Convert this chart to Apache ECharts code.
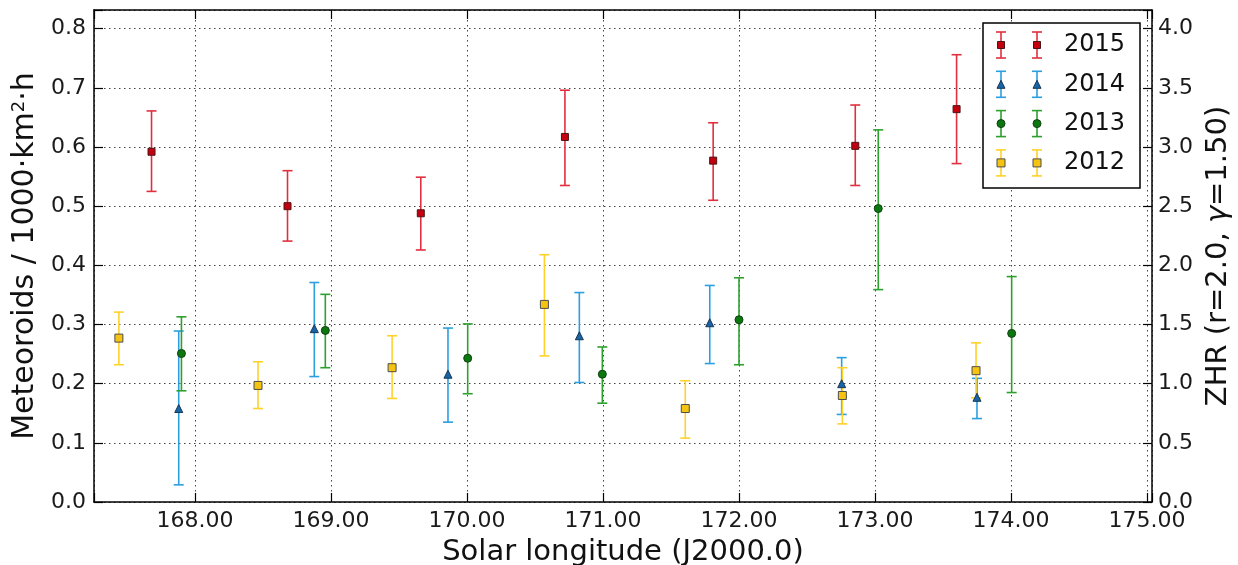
<!DOCTYPE html>
<html><head><meta charset="utf-8">
<script src="https://cdn.jsdelivr.net/npm/echarts@6/dist/echarts.min.js"></script>
<style>html,body{margin:0;padding:0;background:#fff}#c{width:1238px;height:565px}</style>
</head><body><div id="c"></div>
<script>
// ---- data ----
const years = ['2015', '2014', '2013', '2012'];

const lon2015 = [167.68, 168.68, 169.66, 170.72, 171.81, 172.855, 173.60];
const val2015 = [0.592, 0.500, 0.488, 0.617, 0.577, 0.602, 0.664];
const lo2015  = [0.525, 0.441, 0.426, 0.535, 0.510, 0.535, 0.572];
const hi2015  = [0.661, 0.560, 0.549, 0.696, 0.641, 0.671, 0.756];

const lon2014 = [167.88, 168.877, 169.86, 170.826, 171.785, 172.755, 173.75];
const val2014 = [0.158, 0.293, 0.216, 0.281, 0.303, 0.200, 0.177];
const lo2014  = [0.029, 0.212, 0.135, 0.202, 0.234, 0.148, 0.141];
const hi2014  = [0.289, 0.371, 0.294, 0.354, 0.366, 0.244, 0.209];

const lon2013 = [167.90, 168.958, 170.005, 170.995, 172.0, 173.024, 174.005];
const val2013 = [0.251, 0.290, 0.243, 0.216, 0.308, 0.496, 0.285];
const lo2013  = [0.188, 0.227, 0.183, 0.167, 0.232, 0.359, 0.185];
const hi2013  = [0.313, 0.351, 0.301, 0.262, 0.379, 0.629, 0.381];

const lon2012 = [167.44, 168.463, 169.449, 170.569, 171.605, 172.76, 173.743];
const val2012 = [0.277, 0.197, 0.227, 0.334, 0.158, 0.180, 0.222];
const lo2012  = [0.232, 0.158, 0.175, 0.247, 0.108, 0.132, 0.176];
const hi2012  = [0.321, 0.237, 0.281, 0.418, 0.205, 0.227, 0.269];

const xMin = 167.257, xMax = 175.037;
const yMin = 0, yMax = 0.8316;
const zhrFactor = 5;  // right axis = left axis * 5

// ---- styling ----
const FONT = 'DejaVu Sans';
const styles = {
  '2015': {bar: '#e0303f', fill: '#c40010', edge: '#4a1515', symbol: 'rect', size: 7},
  '2014': {bar: '#2b9fe0', fill: '#1565a8', edge: '#1a3550', symbol: 'triangle', size: 8},
  '2013': {bar: '#2ea02e', fill: '#0b780f', edge: '#124012', symbol: 'circle', size: 8},
  '2012': {bar: '#ffd22a', fill: '#f5c312', edge: '#4d4d4d', symbol: 'rect', size: 8}
};
const sets = {
  '2015': [lon2015, val2015, lo2015, hi2015],
  '2014': [lon2014, val2014, lo2014, hi2014],
  '2013': [lon2013, val2013, lo2013, hi2013],
  '2012': [lon2012, val2012, lo2012, hi2012]
};

function errRender(color) {
  return function (params, api) {
    const x = api.value(0), lo = api.value(1), hi = api.value(2);
    const p1 = api.coord([x, lo]), p2 = api.coord([x, hi]);
    const w = 5;
    const st = {stroke: color, lineWidth: 1.6};
    return {type: 'group', children: [
      {type: 'line', shape: {x1: p1[0], y1: p1[1], x2: p2[0], y2: p2[1]}, style: st},
      {type: 'line', shape: {x1: p1[0] - w, y1: p1[1], x2: p1[0] + w, y2: p1[1]}, style: st},
      {type: 'line', shape: {x1: p2[0] - w, y1: p2[1], x2: p2[0] + w, y2: p2[1]}, style: st}
    ]};
  };
}

const series = [];
years.forEach(function (y, k) {
  const d = sets[y], s = styles[y];
  series.push({
    type: 'custom', name: y + ' err', xAxisIndex: 0, yAxisIndex: 0,
    renderItem: errRender(s.bar), z: 2 + k,
    encode: {x: 0, y: [1, 2]},
    data: d[0].map(function (x, i) { return [x, d[2][i], d[3][i]]; })
  });
  series.push({
    type: 'scatter', name: y, xAxisIndex: 0, yAxisIndex: 0,
    symbol: s.symbol, symbolSize: s.size, z: 10 + k,
    itemStyle: {color: s.fill, borderColor: s.edge, borderWidth: 1, opacity: 1},
    data: d[0].map(function (x, i) { return [x, d[1][i]]; })
  });
});

// legend drawn as graphic (matplotlib style with two error-bar markers)
const legendGraphic = [];
const LX = 983, LY = 23, LW = 157, LH = 165;
legendGraphic.push({type: 'rect', shape: {x: LX, y: LY, width: LW, height: LH},
  style: {fill: '#fff', stroke: '#000', lineWidth: 1.5}, z: 100});
years.forEach(function (y, i) {
  const s = styles[y];
  const cy = 45 + i * 39.3;
  [1001, 1037].forEach(function (cx) {
    const st = {stroke: s.bar, lineWidth: 1.6};
    legendGraphic.push({type: 'line', shape: {x1: cx, y1: cy - 13, x2: cx, y2: cy + 13}, style: st, z: 101});
    legendGraphic.push({type: 'line', shape: {x1: cx - 5, y1: cy - 13, x2: cx + 5, y2: cy - 13}, style: st, z: 101});
    legendGraphic.push({type: 'line', shape: {x1: cx - 5, y1: cy + 13, x2: cx + 5, y2: cy + 13}, style: st, z: 101});
    const ms = {fill: s.fill, stroke: s.edge, lineWidth: 1};
    const h = s.size / 2;
    if (s.symbol === 'rect') {
      legendGraphic.push({type: 'rect', shape: {x: cx - h, y: cy - h, width: s.size, height: s.size}, style: ms, z: 102});
    } else if (s.symbol === 'circle') {
      legendGraphic.push({type: 'circle', shape: {cx: cx, cy: cy, r: h}, style: ms, z: 102});
    } else {
      legendGraphic.push({type: 'polygon', shape: {points: [[cx, cy - h], [cx + h, cy + h], [cx - h, cy + h]]}, style: ms, z: 102});
    }
  });
  legendGraphic.push({type: 'text', x: 1064, y: cy, z: 102,
    style: {text: y, fontFamily: FONT, fontSize: 24, fill: '#111', verticalAlign: 'middle', align: 'left'}});
});

const splitStyle = {show: true, lineStyle: {color: '#444', width: 1, type: [1.5, 3.5]}};
const axisLine = {show: true, onZero: false, lineStyle: {color: '#000', width: 1.5}};
const tickStyle = {show: true, inside: true, length: 9, lineStyle: {color: '#000', width: 1.2}};
const labelBase = {fontFamily: FONT, fontSize: 22, color: '#1a1a1a'};

const option = {
  animation: false,
  backgroundColor: '#fff',
  grid: {left: 94, right: 86, top: 10, bottom: 63, containLabel: false, outerBoundsMode: 'none'},
  xAxis: [{
    type: 'value', position: 'bottom', min: xMin, max: xMax, splitNumber: 8,
    name: 'Solar longitude (J2000.0)', nameLocation: 'middle', nameGap: 36,
    nameTextStyle: {fontFamily: FONT, fontSize: 29, color: '#111'},
    axisLine: axisLine, axisTick: tickStyle, splitLine: splitStyle,
    axisLabel: Object.assign({}, labelBase, {margin: 8, showMinLabel: true, showMaxLabel: true,
      formatter: function (v) { return Math.abs(v - Math.round(v)) < 1e-6 ? v.toFixed(2) : ''; }})
  }, {
    type: 'value', position: 'top', min: xMin, max: xMax, splitNumber: 8,
    axisLine: axisLine, axisTick: tickStyle, splitLine: {show: false}, axisLabel: {show: false}
  }],
  yAxis: [{
    type: 'value', position: 'left', min: yMin, max: yMax, interval: 0.1,
    name: 'Meteoroids / 1000·km{sup|2}·h', nameLocation: 'middle', nameGap: 52, nameRotate: 90,
    nameTextStyle: {fontFamily: FONT, fontSize: 30, color: '#111',
      rich: {sup: {fontFamily: FONT, fontSize: 18, color: '#111', verticalAlign: 'top'}}},
    axisLine: axisLine, axisTick: tickStyle, splitLine: splitStyle,
    axisLabel: Object.assign({}, labelBase, {margin: 8,
      formatter: function (v) { return Math.abs(v * 10 - Math.round(v * 10)) < 1e-6 ? v.toFixed(1) : ''; }})
  }, {
    type: 'value', position: 'right', min: yMin * zhrFactor, max: yMax * zhrFactor, interval: 0.5,
    name: 'ZHR (r=2.0, {it|γ}=1.50)', nameLocation: 'middle', nameGap: 50, nameRotate: 90,
    nameTextStyle: {fontFamily: FONT, fontSize: 29, color: '#111',
      rich: {it: {fontFamily: FONT, fontSize: 29, fontStyle: 'italic', color: '#111'}}},
    axisLine: axisLine, axisTick: tickStyle, splitLine: {show: false},
    axisLabel: Object.assign({}, labelBase, {margin: 6,
      formatter: function (v) { return Math.abs(v * 2 - Math.round(v * 2)) < 1e-6 ? v.toFixed(1) : ''; }})
  }],
  graphic: legendGraphic,
  series: series
};

const chart = echarts.init(document.getElementById('c'), null, {renderer: 'canvas'});
chart.setOption(option);
</script></body></html>
